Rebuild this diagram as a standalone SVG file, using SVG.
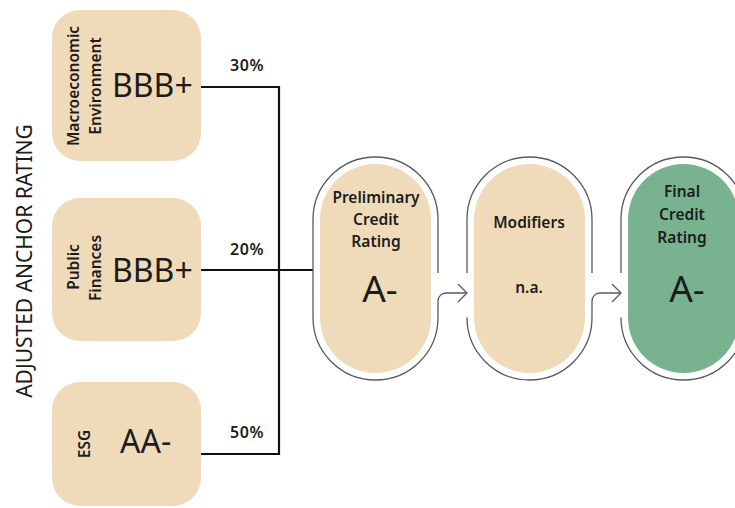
<svg xmlns="http://www.w3.org/2000/svg" width="735" height="508" viewBox="0 0 735 508">
<style>
text{font-family:"Noto Sans","Open Sans","DejaVu Sans",sans-serif;fill:#1c1c1c}
.box{fill:#EFDBBA}
.green{fill:#78B28F}
.lbl{font-size:15.5px;font-weight:560}
.big{font-size:32px;font-weight:450}
.pct{font-size:16px;font-weight:560;letter-spacing:0.5px}
.ptxt{font-size:15.5px;font-weight:560}
.grade{font-size:37px}
.outline{fill:none;stroke:#5a5a5a;stroke-width:1.3}
.conn{fill:none;stroke:#111;stroke-width:2.2}
.side{font-size:21px;font-weight:400}
</style>
<rect width="735" height="508" fill="#fff"/>
<text class="side" transform="translate(32,261) rotate(-90)" text-anchor="middle">ADJUSTED ANCHOR RATING</text>

<g id="macro">
<rect class="box" x="52" y="10" width="149" height="151" rx="28"/>
<text class="lbl" transform="translate(79,86) rotate(-90)" text-anchor="middle">Macroeconomic</text>
<text class="lbl" transform="translate(101,86) rotate(-90)" text-anchor="middle">Environment</text>
<text class="big" x="112" y="97">BBB+</text>
</g>
<g id="public">
<rect class="box" x="52" y="198" width="149" height="143" rx="28"/>
<text class="lbl" transform="translate(79,267) rotate(-90)" text-anchor="middle">Public</text>
<text class="lbl" transform="translate(101,268) rotate(-90)" text-anchor="middle">Finances</text>
<text class="big" x="112" y="282">BBB+</text>
</g>
<g id="esg">
<rect class="box" x="52" y="382" width="149" height="124" rx="28"/>
<text class="lbl" transform="translate(90,444) rotate(-90)" text-anchor="middle">ESG</text>
<text class="big" x="120" y="453">AA-</text>
</g>

<g id="connectors">
<path class="conn" d="M201,87 H279 V454 H201"/>
<path class="conn" d="M201,270 H313"/>
<text class="pct" x="247" y="71" text-anchor="middle">30%</text>
<text class="pct" x="247" y="255" text-anchor="middle">20%</text>
<text class="pct" x="247" y="438" text-anchor="middle">50%</text>
<path class="outline" d="M458,284 L467,293 L458,302"/>
<path class="outline" d="M612,284 L621,293 L612,302"/>
</g>

<g id="preliminary">
<rect class="box" x="320" y="164" width="111" height="209" rx="55.5"/>
<path class="outline" d="M438,273 V219.5 A62.5,62.5 0 0 0 313,219.5 V317.5 A62.5,62.5 0 0 0 438,317.5 V301 A8,8 0 0 1 446,293 H466"/>
<text class="ptxt" x="376" y="203" text-anchor="middle">Preliminary</text>
<text class="ptxt" x="376" y="225" text-anchor="middle">Credit</text>
<text class="ptxt" x="376" y="247" text-anchor="middle">Rating</text>
<text class="grade" x="380" y="302" text-anchor="middle">A-</text>
</g>
<g id="modifiers">
<rect class="box" x="474" y="164" width="111" height="209" rx="55.5"/>
<path class="outline" d="M592,273 V219.5 A62.5,62.5 0 0 0 467,219.5 V273 M467,317.5 A62.5,62.5 0 0 0 592,317.5 V301 A8,8 0 0 1 600,293 H620"/>
<text class="ptxt" x="529" y="228" text-anchor="middle">Modifiers</text>
<text class="ptxt" x="529" y="293" text-anchor="middle">n.a.</text>
</g>
<g id="final">
<rect class="green" x="628" y="164" width="111" height="209" rx="55.5"/>
<path class="outline" d="M621,273 V219.5 A62.5,62.5 0 0 1 746,219.5 V317.5 A62.5,62.5 0 0 1 621,317.5"/>
<text class="ptxt" x="682" y="197" text-anchor="middle">Final</text>
<text class="ptxt" x="682" y="220" text-anchor="middle">Credit</text>
<text class="ptxt" x="682" y="243" text-anchor="middle">Rating</text>
<text class="grade" x="687" y="302" text-anchor="middle">A-</text>
</g>
</svg>
